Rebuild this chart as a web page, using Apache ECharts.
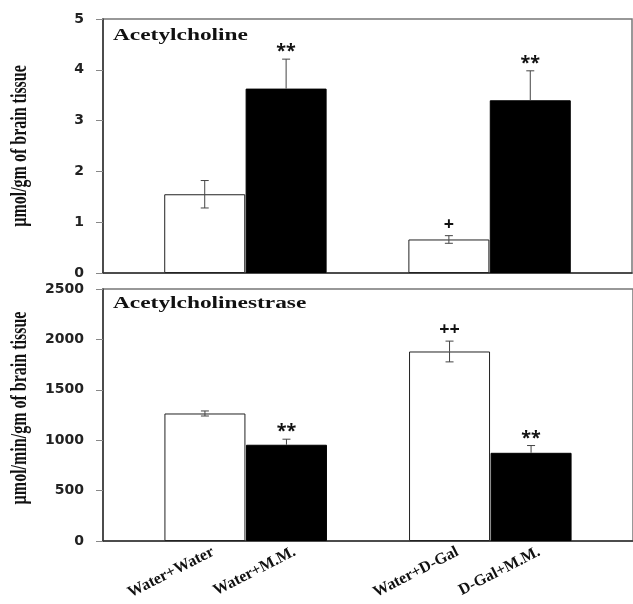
<!DOCTYPE html>
<html>
<head>
<meta charset="utf-8">
<script src="https://cdn.jsdelivr.net/npm/echarts@6/dist/echarts.min.js"></script>
<style>
  html, body { margin: 0; padding: 0; background: #fff; }
  #chart { width: 633px; height: 604px; }
</style>
</head>
<body>
<div id="chart"></div>
<script>
// Treatment groups, shown left to right
const categories = ['Water+Water', 'Water+M.M.', 'Water+D-Gal', 'D-Gal+M.M.'];

// Acetylcholine (µmol/gm of brain tissue): mean and SE
const achMean = [1.55, 3.63, 0.66, 3.40];
const achErr = [0.27, 0.58, 0.075, 0.58];
const achMarks = ['', '**', '+', '**'];

// Acetylcholinestrase (µmol/min/gm of brain tissue): mean and SE
const acheMean = [1265, 955, 1880, 875];
const acheErr = [25, 55, 103, 72];
const acheMarks = ['', '**', '++', '**'];

// Axis ranges
const achAxis = { min: 0, max: 5, interval: 1 };
const acheAxis = { min: 0, max: 2500, interval: 500 };

// Each pair of bars sits side by side, with one empty slot between the pairs
const slotOf = i => i + (i >= 2 ? 1 : 0);
const slots = categories.map((c, i) => slotOf(i));
// Rotated category labels hang slightly to the right of their bar centre
const labelAt = slots.map(s => s + 0.1);

const STRETCH = 1.46;

const whiteBar = { color: '#ffffff', borderColor: '#222', borderWidth: 1 };
const blackBar = { color: '#000000', borderColor: '#000', borderWidth: 1 };

function barSeries(mean, idx) {
  return {
    type: 'bar',
    xAxisIndex: idx,
    yAxisIndex: idx,
    barWidth: 81,
    silent: true,
    data: mean.map((v, i) => ({
      value: [slotOf(i), v],
      itemStyle: i % 2 === 0 ? whiteBar : blackBar
    })),
    z: 2
  };
}

function errorSeries(mean, err, marks, idx) {
  return {
    type: 'custom',
    xAxisIndex: idx,
    yAxisIndex: idx,
    silent: true,
    z: 5,
    data: mean.map((v, i) => [slotOf(i), v, err[i]]),
    renderItem: function (params, api) {
      const i = params.dataIndex;
      const x = api.value(0), m = api.value(1), e = api.value(2);
      const top = api.coord([x, m + e]);
      const mid = api.coord([x, m]);
      const bot = api.coord([x, m - e]);
      const cap = 4;
      const stroke = { stroke: '#444', lineWidth: 1 };
      const children = [
        { type: 'line', shape: { x1: top[0], y1: top[1], x2: mid[0], y2: mid[1] }, style: stroke },
        { type: 'line', shape: { x1: top[0] - cap, y1: top[1], x2: top[0] + cap, y2: top[1] }, style: stroke }
      ];
      if (i % 2 === 0) {
        children.push(
          { type: 'line', shape: { x1: mid[0], y1: mid[1], x2: bot[0], y2: bot[1] }, style: stroke },
          { type: 'line', shape: { x1: bot[0] - cap, y1: bot[1], x2: bot[0] + cap, y2: bot[1] }, style: stroke }
        );
      }
      const mark = marks[i];
      if (mark) {
        const isStar = mark.indexOf('*') >= 0;
        children.push({
          type: 'text',
          x: top[0],
          y: top[1] - (isStar ? 7 : 11),
          style: {
            text: mark,
            font: 'bold 18px "Noto Sans", sans-serif',
            fill: '#111',
            align: 'center',
            verticalAlign: 'middle'
          }
        });
      }
      return { type: 'group', children: children };
    }
  };
}

function xAxisFor(idx, showLabels) {
  return {
    type: 'value',
    gridIndex: idx,
    min: -1.25,
    max: 5.25,
    splitLine: { show: false },
    axisTick: { show: false },
    axisLine: { show: true, onZero: false, lineStyle: { color: '#333', width: 1.5 } },
    axisLabel: {
      show: showLabels,
      customValues: labelAt,
      rotate: 27,
      margin: 10,
      fontFamily: 'Liberation Serif',
      fontWeight: 'bold',
      fontSize: 16,
      color: '#111',
      formatter: v => categories[slots.indexOf(Math.round(v))] || ''
    }
  };
}

function yAxisFor(idx, range) {
  return {
    type: 'value',
    gridIndex: idx,
    min: range.min,
    max: range.max,
    interval: range.interval,
    splitLine: { show: false },
    axisLine: { show: true, onZero: false, lineStyle: { color: '#333', width: 1.5 } },
    axisTick: { show: true, length: 7, lineStyle: { color: '#888' } },
    axisLabel: {
      margin: 19,
      fontFamily: "'DejaVu Sans', sans-serif",
      fontWeight: 'bold',
      fontSize: 14,
      color: '#222',
      formatter: v => String(v)
    }
  };
}

function textEl(text, x, y, rotation, align, scale) {
  return Object.assign({
    type: 'text',
    x: x,
    y: y,
    rotation: rotation,
    silent: true,
    style: {
      text: text,
      font: 'bold 16px "Liberation Serif", serif',
      fill: '#111',
      align: align,
      verticalAlign: 'middle'
    }
  }, scale);
}

const chart = echarts.init(document.getElementById('chart'), null, { renderer: 'canvas' });

chart.setOption({
  animation: false,
  backgroundColor: '#ffffff',
  grid: [
    { left: 103, top: 19, right: 1, height: 254, show: true, borderColor: '#777', borderWidth: 1.5 },
    { left: 103, top: 289, right: 0, height: 252, show: true, borderColor: '#777', borderWidth: 1.5 }
  ],
  xAxis: [xAxisFor(0, false), xAxisFor(1, true)],
  yAxis: [yAxisFor(0, achAxis), yAxisFor(1, acheAxis)],
  series: [
    barSeries(achMean, 0),
    errorSeries(achMean, achErr, achMarks, 0),
    barSeries(acheMean, 1),
    errorSeries(acheMean, acheErr, acheMarks, 1)
  ],
  graphic: [
    textEl('Acetylcholine', 113, 35.6, 0, 'left', { scaleX: STRETCH }),
    textEl('Acetylcholinestrase', 113, 304, 0, 'left', { scaleX: STRETCH }),
    textEl('µmol/gm of brain tissue', 20, 146, Math.PI / 2, 'center', { scaleY: STRETCH }),
    textEl('µmol/min/gm of brain tissue', 20, 408, Math.PI / 2, 'center', { scaleY: STRETCH })
  ]
});
</script>
</body>
</html>
